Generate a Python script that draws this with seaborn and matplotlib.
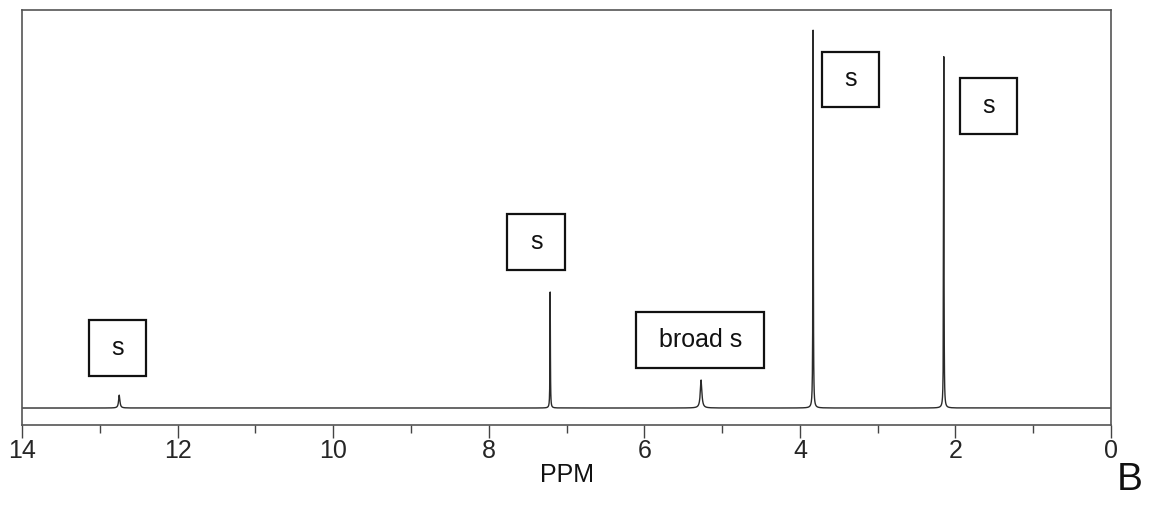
import numpy as np
import pandas as pd
import matplotlib
matplotlib.use("Agg")
import matplotlib.pyplot as plt
from matplotlib.path import Path
from matplotlib.ticker import MultipleLocator
import seaborn as sns

# peak table (ppm, relative height, half width)
peak_ppm = [12.75, 7.21, 5.27, 3.83, 2.15]
peak_height = [3.4, 30.7, 7.4, 100.0, 93.0]
peak_width = [0.010, 0.003, 0.012, 0.003, 0.003]

# multiplicity labels and where their boxes sit
label_text = ["s", "s", "broad s", "s", "s"]
label_ppm = [12.77, 7.39, 5.28, 3.35, 1.575]
label_y = [15.9, 44.0, 18.0, 87.0, 79.9]

ppm = np.linspace(0, 14, 56001)
intensity = np.zeros_like(ppm)
for c, h, w in zip(peak_ppm, peak_height, peak_width):
    intensity += h * w**2 / ((ppm - c) ** 2 + w**2)
df = pd.DataFrame({"ppm": ppm, "intensity": intensity})

sns.set_theme(style="white")
plt.rcParams["font.family"] = ["Liberation Sans", "DejaVu Sans"]


def fixed_box(x0, y0, width, height, mutation_size):
    # plain rectangle with more padding left/right than top/bottom
    px = 0.90 * mutation_size
    py = 0.63 * mutation_size
    x0, x1 = x0 - px, x0 + width + px
    y0, y1 = y0 - py, y0 + height + py
    return Path([(x0, y0), (x1, y0), (x1, y1), (x0, y1), (x0, y0)], closed=True)


fig = plt.figure(figsize=(11.53, 5.09), dpi=100)
ax = fig.add_axes([0.0191, 0.165, 0.9445, 0.815])

sns.lineplot(data=df, x="ppm", y="intensity", ax=ax, color="#2a2a2a",
             linewidth=1.0, estimator=None, sort=False)

for txt, x, y in zip(label_text, label_ppm, label_y):
    ax.text(x, y, txt, ha="center", va="center", fontsize=18, color="#111111",
            bbox=dict(boxstyle=fixed_box, fc="white", ec="#111111", lw=1.6))

ax.set_xlim(14, 0)
ax.set_ylim(-4.5, 105.3)
ax.xaxis.set_major_locator(MultipleLocator(2))
ax.xaxis.set_minor_locator(MultipleLocator(1))
ax.set_yticks([])
ax.tick_params(axis="x", which="major", direction="out", length=9, width=1.0,
               color="#444444", labelsize=18, pad=1, bottom=True)
ax.tick_params(axis="x", which="minor", direction="out", length=5.8, width=1.0,
               color="#444444", bottom=True)
for s in ax.spines.values():
    s.set_color("#555555")
    s.set_linewidth(1.2)

ax.set_xlabel("PPM", fontsize=18, labelpad=0, color="#111111")
ax.set_ylabel("")

fig.text(0.991, 0.038, "B", fontsize=28, ha="right", va="baseline", color="#111111")

fig.savefig("out.png", dpi=100)
